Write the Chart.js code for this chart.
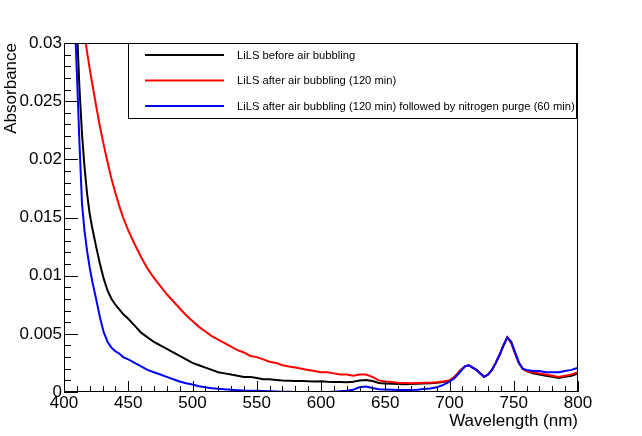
<!DOCTYPE html>
<html lang="en">
<head>
<meta charset="UTF-8">
<title>LiLS absorbance</title>
<script src="https://cdn.jsdelivr.net/npm/chart.js@4.4.1/dist/chart.umd.min.js"></script>
<style>
  html, body { margin: 0; padding: 0; background: #fff; }
  #absChart { display: block; }
</style>
</head>
<body>
<canvas id="absChart" width="642" height="436"></canvas>
<script>
// wavelength grid (nm) shared by the three spectra
const wavelength = [
  404, 406, 408, 410, 412, 414, 416, 418, 420, 422, 425, 428, 431, 434, 437, 440, 443, 446,
  450, 455, 460, 465, 470, 475, 480, 485, 490, 495, 500, 505, 510, 515, 520, 525, 530, 535,
  540, 545, 550, 555, 560, 565, 570, 575, 580, 585, 590, 595, 600, 605, 610, 615, 620, 625,
  630, 635, 640, 645, 650, 655, 660, 665, 670, 675, 680, 685, 690, 695, 700,
  704, 708, 712, 715, 718, 721, 724, 727, 730, 733, 736, 739, 742, 745, 748, 751, 754, 757, 760,
  765, 770, 775, 780, 785, 790, 795, 800
];

const beforeBubbling = [
  0.052, 0.045, 0.038, 0.0315, 0.0262, 0.0222, 0.0193, 0.0170, 0.0153, 0.0141, 0.0125, 0.0110, 0.0097, 0.0087, 0.0080, 0.0075, 0.0071, 0.0067,
  0.0063, 0.0057, 0.0051, 0.0047, 0.0043, 0.0040, 0.0037, 0.0034, 0.0031, 0.0028, 0.0025, 0.0023, 0.0021, 0.0019, 0.0017, 0.0016, 0.0015, 0.0014,
  0.0013, 0.0013, 0.0012, 0.0011, 0.0011, 0.00104, 0.00098, 0.00096, 0.00095, 0.00094, 0.00092, 0.0009, 0.00093, 0.00089, 0.00087, 0.00085, 0.00083, 0.00088,
  0.00098, 0.00103, 0.00094, 0.00078, 0.00073, 0.0007, 0.00068, 0.00067, 0.00068, 0.0007, 0.00072, 0.00076, 0.0008, 0.00086, 0.00098,
  0.0013, 0.0018, 0.0022, 0.0023, 0.0021, 0.0019, 0.0016, 0.0013, 0.0015, 0.0019, 0.0025, 0.0032, 0.0040, 0.0047, 0.0043, 0.0034, 0.0025, 0.0020, 0.0018,
  0.0016, 0.0015, 0.0014, 0.0013, 0.0012, 0.0013, 0.0014, 0.0016
];

const afterBubbling = [
  0.045, 0.042, 0.039, 0.0365, 0.034, 0.0322, 0.0307, 0.0292, 0.0278, 0.0265, 0.0246, 0.0228, 0.0212, 0.0197, 0.0183, 0.0171, 0.0160, 0.0150,
  0.0139, 0.0127, 0.0116, 0.0106, 0.0098, 0.0091, 0.0084, 0.0078, 0.0072, 0.0066, 0.0061, 0.0056, 0.0052, 0.0048, 0.0045, 0.0042, 0.0039, 0.0036,
  0.0034, 0.0031, 0.0030, 0.0028, 0.0026, 0.0025, 0.0023, 0.0022, 0.0021, 0.0020, 0.0019, 0.0018, 0.0017, 0.0017, 0.0016, 0.0015, 0.0015, 0.0014,
  0.0015, 0.0015, 0.0013, 0.0010, 0.0009, 0.00085, 0.0008, 0.00078, 0.00076, 0.00078, 0.0008, 0.0008, 0.00084, 0.0009, 0.001,
  0.0013, 0.0018, 0.0022, 0.0023, 0.0021, 0.0019, 0.0016, 0.0013, 0.0015, 0.0019, 0.0025, 0.0032, 0.0040, 0.0047, 0.0042, 0.0033, 0.0025, 0.0020, 0.0018,
  0.0017, 0.0016, 0.0015, 0.0014, 0.0013, 0.0014, 0.0015, 0.0017
];

const afterPurge = [
  0.046, 0.039, 0.033, 0.0275, 0.0215, 0.0162, 0.0138, 0.0121, 0.0107, 0.0095, 0.0080, 0.0064, 0.0051, 0.0043, 0.0038, 0.0035, 0.0033, 0.0030,
  0.0028, 0.0025, 0.0022, 0.0019, 0.0017, 0.0015, 0.0013, 0.0011, 0.0009, 0.00076, 0.00065, 0.0005, 0.0004, 0.00033, 0.00028, 0.00023, 0.0002, 0.00016,
  0.00012, 0.0001, 0.0001, 0.00009, 0.00007, 0.00005, 0.00003, 0.00002, 0.00001, 0, 0, -0.00002, 0, 0, 0.00003, 0.00006, 0.0001, 0.0002,
  0.0004, 0.00047, 0.00035, 0.00024, 0.00022, 0.0002, 0.00018, 0.00017, 0.00017, 0.0002, 0.00025, 0.0003, 0.0004, 0.0006, 0.0009,
  0.0012, 0.0017, 0.0022, 0.0023, 0.0021, 0.0019, 0.0016, 0.0013, 0.0015, 0.0019, 0.0025, 0.0032, 0.0040, 0.0047, 0.0043, 0.0034, 0.0025, 0.0020, 0.0019,
  0.0018, 0.0018, 0.0017, 0.0017, 0.0017, 0.0018, 0.0019, 0.0021
];

const seriesLabels = [
  'LiLS before air bubbling',
  'LiLS after air bubbling (120 min)',
  'LiLS after air bubbling (120 min) followed by nitrogen purge (60 min)'
];
const seriesColors = ['#000000', '#ff0000', '#0000ff'];

const xTicks = [400, 450, 500, 550, 600, 650, 700, 750, 800];
const yTicks = [0, 0.005, 0.01, 0.015, 0.02, 0.025, 0.03];
const yTickLabels = ['0', '0.005', '0.01', '0.015', '0.02', '0.025', '0.03'];

const FONT = '"Liberation Sans", Arial, Helvetica, sans-serif';

function toPoints(values) {
  return wavelength.map((w, i) => ({ x: w, y: values[i] }));
}

// ROOT-like frame: inner ticks, box and legend
const rootFrame = {
  id: 'rootFrame',
  afterDatasetsDraw(chart) {
    const { ctx, chartArea: a, scales: { x, y } } = chart;
    ctx.save();
    ctx.strokeStyle = '#000';
    ctx.lineWidth = 1;
    ctx.beginPath();
    for (let v = 400; v <= 800; v += 10) {
      const px = Math.round(x.getPixelForValue(v)) + 0.5;
      const len = v % 50 === 0 ? 11 : 6;
      ctx.moveTo(px, a.bottom);
      ctx.lineTo(px, a.bottom - len);
    }
    for (let i = 0; i <= 30; i++) {
      const py = Math.round(y.getPixelForValue(i / 1000)) + 0.5;
      const len = i % 5 === 0 ? 14 : 7;
      ctx.moveTo(a.left, py);
      ctx.lineTo(a.left + len, py);
    }
    ctx.stroke();
    ctx.strokeRect(Math.round(a.left) + 0.5, Math.round(a.top) + 0.5,
      Math.round(a.right - a.left) - 1, Math.round(a.bottom - a.top) - 1);

    // legend box
    const bx = 128.5, by = 43.5, bw = 448, bh = 75;
    ctx.fillStyle = '#fff';
    ctx.fillRect(bx, by, bw, bh);
    ctx.strokeRect(bx, by, bw, bh);
    const rows = [55, 80.5, 106];
    ctx.font = '11.2px ' + FONT;
    ctx.textBaseline = 'middle';
    ctx.textAlign = 'left';
    chart.data.datasets.forEach((ds, i) => {
      ctx.strokeStyle = ds.borderColor;
      ctx.lineWidth = 2;
      ctx.beginPath();
      ctx.moveTo(145, rows[i]);
      ctx.lineTo(224, rows[i]);
      ctx.stroke();
      ctx.fillStyle = '#000';
      ctx.fillText(ds.label, 237, rows[i] + 0.5);
    });
    ctx.restore();
  }
};

const ctx = document.getElementById('absChart').getContext('2d');
new Chart(ctx, {
  type: 'line',
  data: {
    datasets: [
      { label: seriesLabels[0], data: toPoints(beforeBubbling), borderColor: seriesColors[0], order: 2 },
      { label: seriesLabels[1], data: toPoints(afterBubbling), borderColor: seriesColors[1], order: 1 },
      { label: seriesLabels[2], data: toPoints(afterPurge), borderColor: seriesColors[2], order: 0 }
    ]
  },
  options: {
    responsive: false,
    animation: false,
    elements: {
      line: { borderWidth: 2, tension: 0, fill: false },
      point: { radius: 0 }
    },
    layout: { padding: { top: 43, right: 64, left: 0, bottom: 0 } },
    plugins: {
      legend: { display: false },
      tooltip: { enabled: false }
    },
    scales: {
      x: {
        type: 'linear',
        min: 400,
        max: 800,
        afterBuildTicks: s => { s.ticks = xTicks.map(v => ({ value: v })); },
        afterFit: s => { s.height = 44; },
        grid: { display: false, drawTicks: false },
        border: { display: false },
        ticks: {
          color: '#000',
          font: { family: FONT, size: 17 },
          padding: 1,
          maxRotation: 0,
          autoSkip: false,
          callback: v => String(v)
        },
        title: {
          display: true,
          text: 'Wavelength (nm)',
          align: 'end',
          color: '#000',
          font: { family: FONT, size: 17 },
          padding: { top: 0, bottom: 4 }
        }
      },
      y: {
        type: 'linear',
        min: 0,
        max: 0.03,
        afterBuildTicks: s => { s.ticks = yTicks.map(v => ({ value: v })); },
        afterFit: s => { s.width = 64; },
        grid: { display: false, drawTicks: false },
        border: { display: false },
        ticks: {
          color: '#000',
          font: { family: FONT, size: 17 },
          padding: 2,
          autoSkip: false,
          callback: v => yTickLabels[yTicks.indexOf(v)]
        },
        title: {
          display: true,
          text: 'Absorbance',
          align: 'end',
          color: '#000',
          font: { family: FONT, size: 17 },
          padding: { top: 1, bottom: 0 }
        }
      }
    }
  },
  plugins: [rootFrame]
});
</script>
</body>
</html>
